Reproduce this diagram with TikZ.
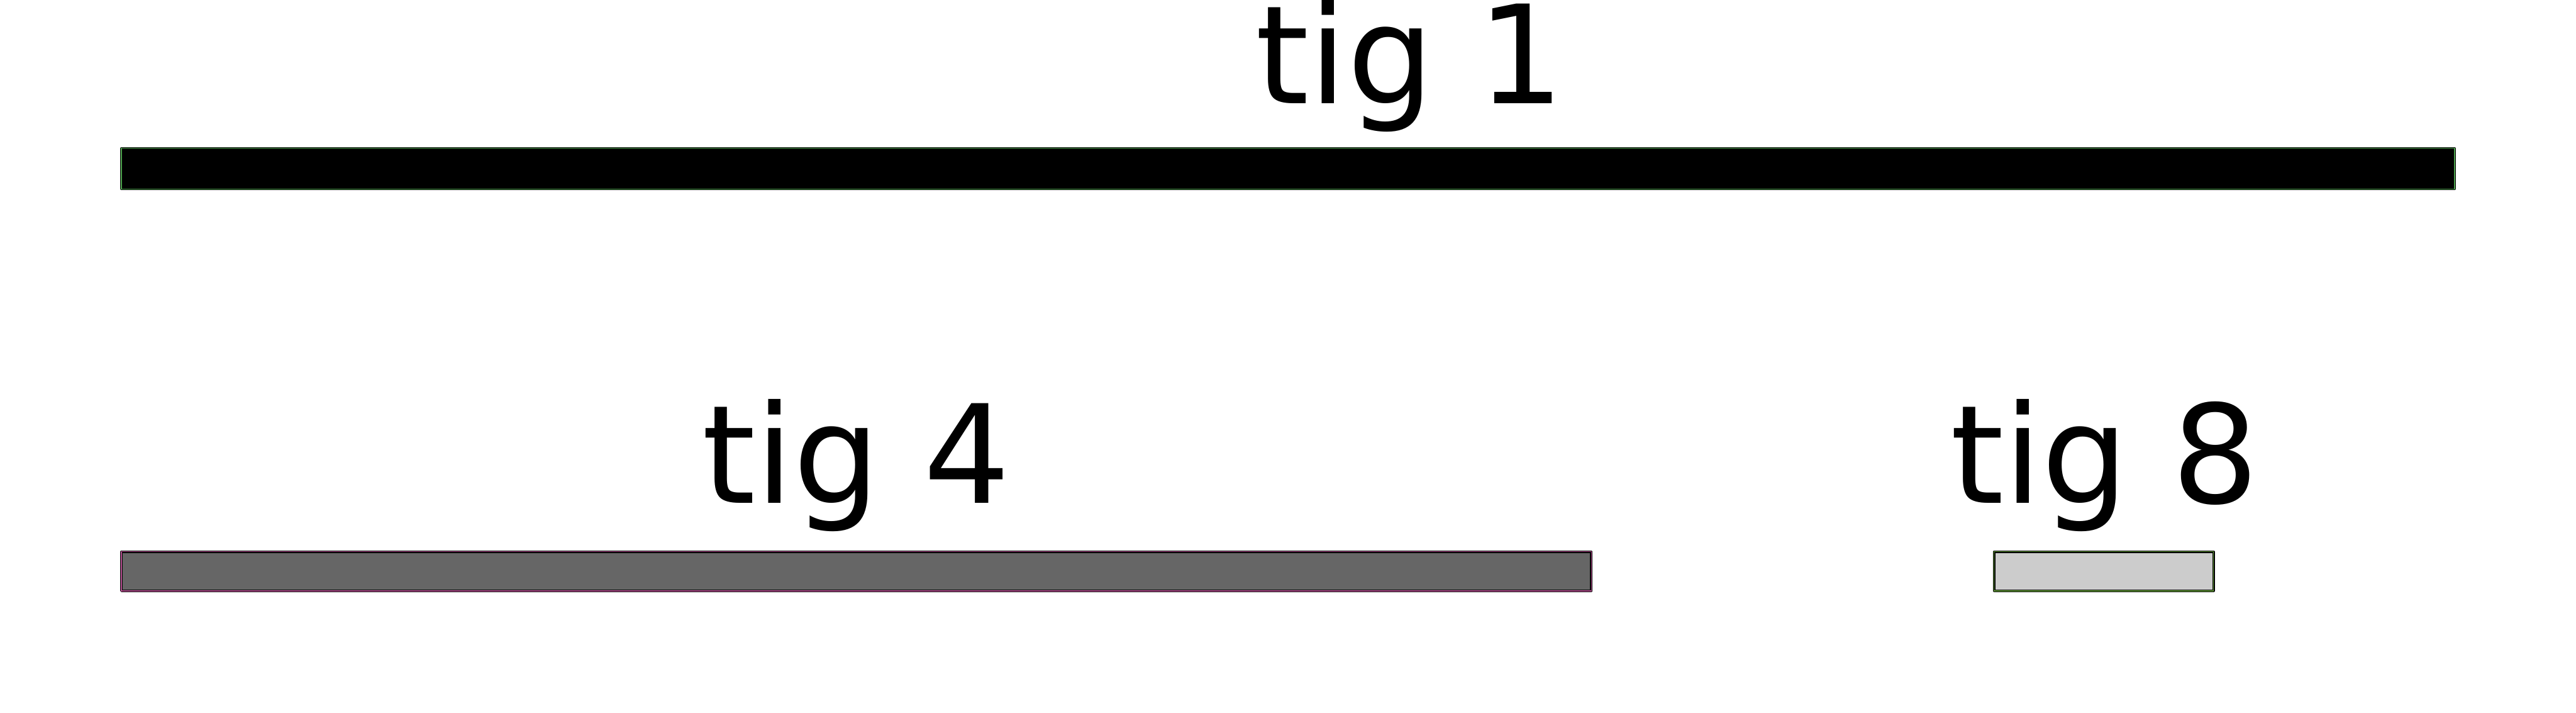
\documentclass[tikz,border=0pt]{standalone}
\usepackage{fontspec}
\setmainfont{DejaVu Sans}
\definecolor{edgeA}{RGB}{76,160,76}
\definecolor{edgeB}{RGB}{176,76,140}
\definecolor{edgeC}{RGB}{96,150,56}
\definecolor{fillB}{RGB}{102,102,102}
\definecolor{fillC}{RGB}{204,204,204}
\tikzset{
  bar/.style={draw=black, line width=0.07cm, rectangle, inner sep=0pt, line join=round},
  inline/.style={line width=0.022cm},
  lbl/.style={anchor=base west, inner sep=0pt, font=\fontsize{109}{120}\selectfont}
}
\begin{document}
\begin{tikzpicture}
\useasboundingbox (0,0) rectangle (72.22,19.96);
% bars
\node[bar, fill=black, minimum width=65.41cm, minimum height=1.14cm] (b1) at (36.11,15.235) {};
\draw[inline, edgeA] ([shift={(0.035,0.035)}]b1.south west) rectangle ([shift={(-0.035,-0.035)}]b1.north east);
\node[bar, fill=fillB, minimum width=41.21cm, minimum height=1.10cm] (b4) at (24.01,3.955) {};
\draw[inline, edgeB] ([shift={(0.035,0.035)}]b4.south west) rectangle ([shift={(-0.035,-0.035)}]b4.north east);
\node[bar, fill=fillC, minimum width=6.15cm, minimum height=1.10cm] (b8) at (58.98,3.955) {};
\draw[inline, edgeC] ([shift={(0.035,0.035)}]b8.south west) rectangle ([shift={(-0.035,-0.035)}]b8.north east);
% labels
\node[lbl] (t1) at (35.20,17.06) {tig 1};
\node[lbl] (t4) at (19.67,5.86) {tig 4};
\node[lbl] (t8) at (54.67,5.86) {tig 8};
\end{tikzpicture}
\end{document}
